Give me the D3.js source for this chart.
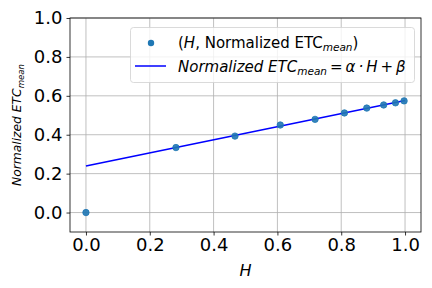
<!DOCTYPE html>
<html><head><meta charset="utf-8">
<script src="https://cdn.jsdelivr.net/npm/d3@7"></script>
<style>body{margin:0;background:#fff}svg{display:block}text{font-family:"DejaVu Sans",sans-serif}</style>
</head><body>
<script>
const hValues = [0.0, 0.282, 0.467, 0.609, 0.718, 0.81, 0.88, 0.933, 0.97, 0.997];
const etcValues = [0.0, 0.334, 0.393, 0.450, 0.479, 0.512, 0.537, 0.553, 0.564, 0.574];
const alpha = 0.337, beta = 0.239;
const fitH = [0, 1];
const xTicks = [0.0, 0.2, 0.4, 0.6, 0.8, 1.0];
const yTicks = [0.0, 0.2, 0.4, 0.6, 0.8, 1.0];

const W = 432, H = 288;
const m = {l: 70, r: 11, t: 18, b: 56};
const svg = d3.select("body").append("svg").attr("width", W).attr("height", H);
const x = d3.scaleLinear().domain([-0.05, 1.05]).range([m.l, W - m.r]);
const y = d3.scaleLinear().domain([-0.1, 1.0]).range([H - m.b, m.t]);

// grid
svg.append("g").selectAll("line").data(xTicks).join("line")
  .attr("x1", d => x(d)).attr("x2", d => x(d)).attr("y1", m.t).attr("y2", H - m.b)
  .attr("stroke", "#b0b0b0").attr("stroke-width", 0.8);
svg.append("g").selectAll("line").data(yTicks).join("line")
  .attr("y1", d => y(d)).attr("y2", d => y(d)).attr("x1", m.l).attr("x2", W - m.r)
  .attr("stroke", "#b0b0b0").attr("stroke-width", 0.8);

// axes
const fmt = d3.format(".1f");
const xa = svg.append("g").attr("transform", `translate(0,${H - m.b})`)
  .call(d3.axisBottom(x).tickValues(xTicks).tickFormat(fmt).tickSize(3.5).tickPadding(3));
const ya = svg.append("g").attr("transform", `translate(${m.l},0)`)
  .call(d3.axisLeft(y).tickValues(yTicks).tickFormat(fmt).tickSize(3.5).tickPadding(4));
[xa, ya].forEach(a => {
  a.select(".domain").remove();
  a.selectAll("text").attr("font-size", 18).attr("fill", "#000").attr("font-family", "DejaVu Sans");
  a.selectAll("line").attr("stroke", "#000").attr("stroke-width", 0.8);
});

// line fit
svg.append("path").datum(fitH)
  .attr("d", d3.line().x(d => x(d)).y(d => y(alpha * d + beta)))
  .attr("stroke", "blue").attr("stroke-width", 1.5).attr("fill", "none");

// scatter
svg.append("g").selectAll("circle").data(hValues).join("circle")
  .attr("cx", d => x(d)).attr("cy", (d, i) => y(etcValues[i])).attr("r", 3.2)
  .attr("fill", "#1f77b4").attr("fill-opacity", 0.9).attr("stroke", "#1f77b4").attr("stroke-width", 0.8);

// frame
svg.append("rect").attr("x", m.l).attr("y", m.t).attr("width", W - m.l - m.r).attr("height", H - m.t - m.b)
  .attr("fill", "none").attr("stroke", "#000").attr("stroke-width", 0.8);

// labels
svg.append("text").attr("x", x(0.5)).attr("y", 276).attr("text-anchor", "middle")
  .attr("font-size", 16).attr("font-style", "italic").text("H");
const yl = svg.append("text").attr("transform", `translate(21,${(m.t + H - m.b) / 2}) rotate(-90)`)
  .attr("text-anchor", "middle").attr("font-size", 12.3).attr("font-style", "italic");
yl.append("tspan").text("Normalized ETC");
yl.append("tspan").attr("font-size", 8.6).attr("dy", 3).text("mean");

// legend
const lg = svg.append("g");
lg.append("rect").attr("x", 130.5).attr("y", 27.5).attr("width", 284).attr("height", 55).attr("rx", 3)
  .attr("fill", "#fff").attr("fill-opacity", 0.8).attr("stroke", "#d0d0d0").attr("stroke-width", 0.8);
lg.append("circle").attr("cx", 151).attr("cy", 43).attr("r", 3.2).attr("fill", "#1f77b4");
lg.append("line").attr("x1", 135).attr("x2", 166).attr("y1", 66).attr("y2", 66)
  .attr("stroke", "blue").attr("stroke-width", 1.5);
const t1 = lg.append("text").attr("x", 178).attr("y", 48).attr("font-size", 15);
t1.append("tspan").text("(");
t1.append("tspan").attr("font-style", "italic").text("H");
t1.append("tspan").text(", Normalized ETC");
t1.append("tspan").attr("font-size", 10.5).attr("font-style", "italic").attr("dy", 3).text("mean");
t1.append("tspan").attr("dy", -3).text(")");
const t2 = lg.append("text").attr("x", 178).attr("y", 72).attr("font-size", 15).attr("font-style", "italic");
t2.append("tspan").text("Normalized ETC");
t2.append("tspan").attr("font-size", 10.5).attr("dy", 3).text("mean");
t2.append("tspan").attr("dy", -3).text("\u2009=\u2009α\u2009·\u2009H\u2009+\u2009β");
</script>
</body></html>
